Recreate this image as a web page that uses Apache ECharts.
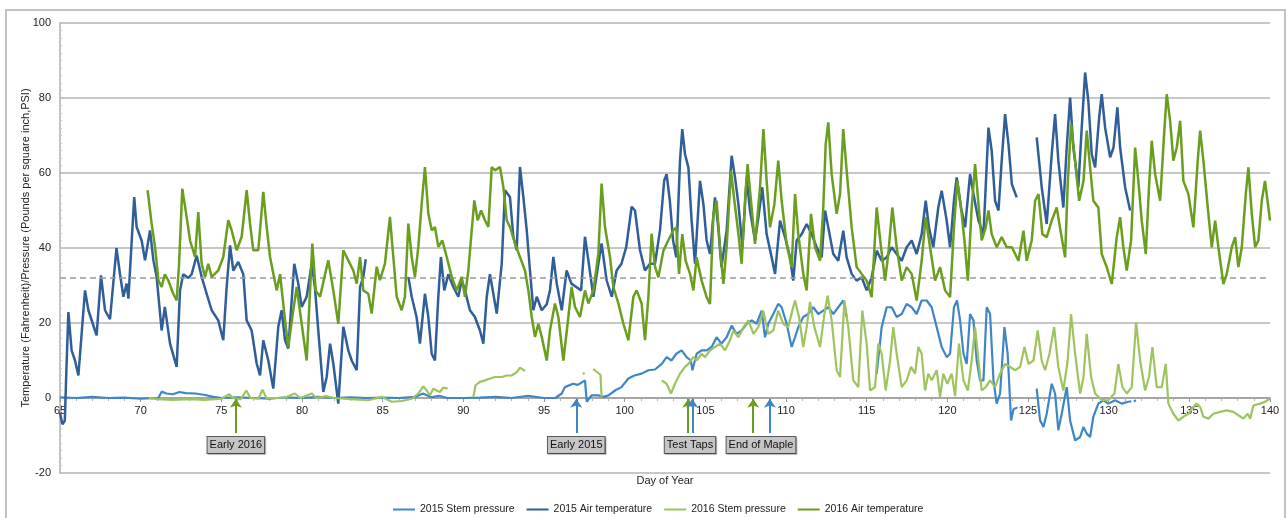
<!DOCTYPE html>
<html>
<head>
<meta charset="utf-8">
<script src="https://cdn.jsdelivr.net/npm/echarts@6/dist/echarts.min.js"></script>
<style>
  html, body { margin: 0; padding: 0; background: #fff; }
  #chart { width: 1288px; height: 518px; }
</style>
</head>
<body>
<div id="chart"></div>
<script>
// [day of year, value]; null = gap in the record
const air2015 = [
  [65.0,-4],[65.15,-7],[65.3,-6],[65.4,8],[65.52,22.9],[65.72,12.7],[65.93,10],[66.14,6],[66.55,28.7],[66.76,23.4],
  [67.17,18],[67.27,16.7],[67.54,32.7],[67.79,23.4],[68.1,21],[68.5,40],[68.72,33],[68.93,27],[69.13,30.5],[69.24,26.5],
  [69.6,53.6],[69.75,45.6],[70.06,42],[70.27,36.7],[70.58,44.7],[70.79,36.7],[70.99,32.3],[71.3,18],[71.5,24.3],[71.82,14.5],
  [72.23,8.3],[72.44,28.7],[72.64,33],[72.95,32],[73.16,33],[73.47,38],[73.78,32.3],[74.09,27.8],[74.4,23.4],[74.81,20.7],
  [75.12,15.4],[75.33,29.6],[75.54,40.7],[75.74,34],[76.05,36.3],[76.36,33],[76.57,20.7],[76.88,18],[77.19,9.2],[77.4,6],
  [77.6,15.4],[77.91,10],[78.22,2.5],[78.53,19],[78.74,23.4],[78.95,15.4],[79.15,13.2],[79.52,35.8],[79.77,30.5],[79.98,24.3],
  [80.29,27],[80.6,35.8],[80.8,29.6],[81.01,18],[81.32,1.6],[81.53,5.6],[81.74,14.5],[81.94,9.2],[82.25,-1.5],[82.56,19],
  [82.87,12.7],[83.08,10],[83.39,7.4],[83.6,29.6],[83.8,32.3],[83.95,37],
  null,
  [86.59,32.3],[86.8,27],[87.1,21.6],[87.31,14.5],[87.62,27.8],[87.83,21.6],[88.04,11.8],[88.24,10],[88.45,27],[88.61,37.6],
  [88.82,28.7],[89.07,33],[89.38,29.6],[89.69,27],[89.9,31.4],[90.1,28.7],[90.41,23.4],[90.72,21.6],[91.03,18],[91.24,14.5],
  [91.45,27],[91.65,33],[91.86,27.8],[92.07,22.5],[92.38,35.8],[92.58,55.4],[92.89,53.6],[93.1,43],[93.31,39.4],[93.51,61.6],
  [93.72,53.6],[93.93,44.7],[94.13,34],[94.34,23.4],[94.55,27],[94.86,23.4],[95.17,25],[95.37,28.7],[95.58,37.6],[95.79,30.5],
  [96.1,23.4],[96.4,34],[96.7,30.5],[97.0,29.6],[97.3,28.7],[97.54,43],[97.75,36.7],[98.06,27],[98.37,35.8],[98.57,41.2],
  [98.88,31.4],[99.2,27],[99.5,34],[99.8,35.8],[100.1,40.3],[100.43,51],[100.64,50],[100.95,39.4],[101.26,34],[101.57,35.8],
  [101.88,35.8],[102.19,44.7],[102.45,58],[102.6,59.7],[102.8,52.6],[103.0,42],[103.2,37.5],[103.43,63.3],[103.57,71.7],[103.74,65],
  [103.95,61.5],[104.15,47.3],[104.36,35.8],[104.67,57.9],[104.88,51.7],[105.08,42],[105.29,38.4],[105.6,53.5],[105.8,45.5],[106.0,34.9],
  [106.32,44.6],[106.63,64.6],[106.84,58.8],[107.05,51.7],[107.3,40.2],[107.56,58.8],[107.77,50],[108.08,42],[108.29,48.2],[108.53,56.2],
  [108.8,43.7],[109.11,37.5],[109.32,33.1],[109.63,47.3],[109.94,42.9],[110.25,37.5],[110.45,31.3],[110.66,42],[110.97,43.7],[111.28,46.4],
  [111.59,43.7],[111.9,40.2],[112.21,37.5],[112.42,50],[112.62,45.5],[112.93,38.4],[113.24,36.6],[113.55,44.6],[113.76,37.5],[114.07,33.1],
  [114.38,31.3],[114.69,32.2],[115.0,28.7],[115.31,32.2],[115.62,39.3],[115.93,36.6],[116.24,37.5],[116.55,40.2],[116.86,38.4],[117.17,36.6],
  [117.48,40.2],[117.79,42],[118.1,38.4],[118.41,43.7],[118.66,52.6],[118.86,45.5],[119.13,40.2],[119.44,50.8],[119.65,55.3],[119.96,47.3],
  [120.17,40.2],[120.41,52.6],[120.58,58.8],[120.85,50.8],[121.1,45.5],[121.41,59.7],[121.62,54.4],[121.93,47.3],[122.24,43.7],[122.55,72.1],
  [122.75,65.9],[122.96,52.6],[123.17,50],[123.37,63.3],[123.58,75.7],[123.79,67.7],[124.0,57],[124.3,53.5],
  null,
  [125.54,69.5],[125.85,56.2],[126.16,46.4],[126.47,65],[126.68,75.7],[126.88,63.3],[127.19,50.8],[127.4,66.8],[127.61,80.1],[127.81,66.8],
  [128.12,56.2],[128.33,72.1],[128.54,86.8],[128.74,79.2],[128.95,65],[129.16,61.5],[129.41,74.8],[129.57,81],[129.78,72.1],[130.09,64.2],
  [130.3,66.8],[130.54,77.5],[130.71,66.8],[131.02,56.2],[131.33,50]
];

const stem2015 = [
  [65,0.2],[66,0],[67,0.3],[68,0],[69,0.1],[70,-0.2],[71.1,0],[71.3,1.7],[71.6,1.2],[72,1],[72.4,1.6],[72.8,1.3],[73.4,1.2],
  [74,0.8],[74.5,0.3],[75,0],[76,0.2],[77,0],[78,-0.2],[79,0.2],[80,0],[81,0.3],[82,0],[83,0.2],[84,0],[85,0.1],[86,0],
  [87,0.3],[87.5,1.2],[88,0.2],[88.5,0.6],[89,0],[90,0],[91,0.1],[92,0.3],[93,0],[94,0.6],[95,0],[95.7,0],[96.1,1.2],
  [96.3,2.9],[96.8,3.8],[97.1,3.5],[97.54,4.7],[97.65,-1],[97.95,0.7],[98.37,0.7],[98.7,0.3],[99.0,0.7],[99.4,2],[99.8,2.9],
  [100.23,5.2],[100.6,6],[101.05,6.5],[101.47,7.4],[101.88,7.6],[102.3,9.1],[102.6,10.9],[102.9,10],[103.2,11.8],[103.53,12.7],
  [103.84,10.9],[104.1,10],[104.2,7.4],[104.46,11.8],[104.77,12.7],[105.08,12.7],[105.39,13.6],[105.7,16.2],[106.0,14.5],[106.32,16.2],
  [106.63,19.3],[106.94,17.1],[107.25,18],[107.56,19.8],[107.87,20.7],[108.18,19.8],[108.49,23.3],[108.7,16.2],[108.9,19.8],[109.21,22.4],
  [109.52,25.1],[109.73,24.2],[110.04,19.8],[110.35,13.6],[110.56,16.2],[110.76,18.9],[111.07,21.6],[111.38,22.4],[111.69,24.2],[112.0,22.4],
  [112.31,23.3],[112.62,24.2],[112.93,22.4],[113.24,24.2],[113.55,26],[113.76,21.6],
  null,
  [115.62,6.5],[115.93,18.9],[116.24,24.2],[116.55,24.2],[116.86,21.6],[117.17,22.4],[117.48,25.1],[117.79,24.2],[118.1,22.4],[118.41,26],
  [118.72,26],[119.03,24.2],[119.34,18.9],[119.65,13.6],[119.96,10.9],[120.17,11.8],[120.41,24.2],[120.6,26],[120.79,20.7],[121.0,11.8],
  [121.2,9.1],[121.41,22.4],[121.62,20.7],[121.82,10],[122.03,4.7],[122.24,4.7],[122.44,24.2],[122.65,22.4],[122.86,4.7],[123.06,-1.5],
  [123.27,1.2],[123.54,18.9],[123.74,11.8],[123.95,-6],[124.1,-3],[124.35,-2.5],
  null,
  [125.54,2.5],[125.75,-6],[125.96,-7.7],[126.16,-4.2],[126.47,3.8],[126.68,1.2],[126.88,-8.6],[127.09,-4.2],[127.4,2.9],[127.61,-6],
  [127.92,-11.3],[128.23,-10.4],[128.44,-7.7],[128.64,-9.5],[128.85,-10.4],[129.05,-5],[129.36,-1.5],[129.67,-0.6],[129.98,-1.5],[130.4,-0.6],
  [130.81,-1.5],[131.22,-1],[131.4,-0.9],
  null,
  [131.55,-0.8],[131.7,-0.7]
];

const air2016 = [
  [70.43,55.4],[70.68,46.5],[70.89,40.3],[71.1,31.4],[71.3,29.6],[71.5,33],[71.71,31.4],[72.02,27.8],[72.23,26],[72.38,35.8],
  [72.58,55.8],[72.85,48.3],[73.06,42],[73.37,37.6],[73.57,49.6],[73.78,35.8],[73.99,32.3],[74.19,35.8],[74.4,32.3],[74.81,34],
  [75.12,37.6],[75.43,47.4],[75.64,44.7],[75.95,39.4],[76.26,43],[76.57,55.4],[76.78,46.5],[76.98,39.4],[77.29,39.4],[77.6,55],
  [77.81,45.6],[78.02,37.6],[78.22,33.2],[78.43,28.7],[78.64,33],[78.95,20.7],[79.15,13.6],[79.4,21.6],[79.67,29.6],[79.98,19.8],
  [80.29,10],[80.5,28.7],[80.64,41.2],[80.85,28.7],[81.12,27],[81.43,33],[81.63,36.7],[81.94,28.7],[82.25,19.8],[82.56,39.4],
  [82.87,36.7],[83.18,34],[83.39,30.5],[83.6,37.6],[83.8,28.7],[84.11,27.8],[84.32,22.5],[84.63,35],[84.83,31.4],[85.14,35.8],
  [85.45,48.3],[85.66,37.6],[85.87,27],[86.18,23.4],[86.38,27],[86.59,46.5],[86.8,37.6],[87.0,32.3],[87.21,40.3],[87.42,51.8],
  [87.62,61.6],[87.83,49.2],[88.04,44.7],[88.24,45.6],[88.45,40.3],[88.7,42],[88.97,37.6],[89.28,32.3],[89.59,28.7],[89.9,32.3],
  [90.1,27],[90.31,34],[90.52,44.7],[90.68,52.7],[90.89,47.4],[91.1,50],[91.34,47.4],[91.55,45.6],[91.76,61.6],[91.96,60.7],
  [92.27,61.6],[92.48,56.3],[92.69,47.4],[92.89,45.6],[93.2,41.2],[93.51,37.6],[93.82,34],[94.03,28.7],[94.24,21.6],[94.44,16.3],
  [94.65,19.8],[94.86,16.3],[95.17,10],[95.37,18],[95.68,25.2],[95.89,21.6],[96.2,10],[96.51,21.6],[96.71,29.6],[96.92,24.3],
  [97.23,21.6],[97.54,28.7],[97.75,25.2],[98.06,28.7],[98.37,38.5],[98.57,57.2],[98.78,45.6],[99.09,37.6],[99.3,29.6],[99.61,25.2],
  [99.92,19.8],[100.23,15.4],[100.54,27],[100.74,28.7],[101.05,25.2],[101.26,15.4],[101.47,27],[101.67,43.8],[101.88,35],[102.09,32.2],
  [102.4,39.3],[102.7,42],[103.0,44.6],[103.2,45.5],[103.37,33.1],[103.57,43.7],[103.78,36.6],[104.05,33.1],[104.26,28.7],[104.46,37.5],
  [104.77,31.3],[105.08,26.9],[105.29,25.1],[105.5,49.1],[105.7,52.6],[105.91,40.2],[106.12,30.4],[106.32,40.2],[106.59,60.6],[106.8,52.6],
  [107.05,43.7],[107.25,35.8],[107.46,52.6],[107.62,62.4],[107.87,50.8],[108.08,41.1],[108.39,56.2],[108.6,71.7],[108.8,57.9],[109.01,45.5],
  [109.28,51.7],[109.52,63.3],[109.73,52.6],[110.04,41.1],[110.35,34.9],[110.56,54.4],[110.76,43.7],[111.07,33.1],[111.28,28.7],[111.55,49.1],
  [111.8,40.2],[112.11,36.6],[112.31,50.8],[112.46,67.7],[112.62,73.5],[112.83,59.7],[113.14,49.1],[113.35,54.4],[113.55,71.7],[113.76,60.6],
  [114.07,45.5],[114.38,34.9],[114.69,33.1],[115.0,31.3],[115.31,26.9],[115.62,50.8],[115.89,40.2],[116.14,31.3],[116.34,38.4],[116.59,50.8],
  [116.86,40.2],[117.17,31.3],[117.48,34.9],[117.79,33.1],[118.1,26],[118.41,36.6],[118.66,48.2],[118.93,40.2],[119.24,31.3],[119.55,34.9],
  [119.86,28.7],[120.17,26.9],[120.41,45.5],[120.62,57.9],[120.89,49.1],[121.1,40.2],[121.27,31.3],[121.51,50.8],[121.72,62.4],[121.93,51.7],
  [122.13,42],[122.38,45.5],[122.55,50],[122.75,43.7],[123.06,40.2],[123.37,42.9],[123.68,40.2],[124.0,40.2],[124.41,36.6],[124.72,44.6],
  [124.92,36.6],[125.23,42],[125.44,52.6],[125.65,54.4],[125.89,43.7],[126.16,42.9],[126.47,47.3],[126.78,50.8],[127.05,43.7],[127.3,37.5],
  [127.46,57],[127.67,73],[127.92,63.3],[128.17,52.6],[128.44,57.9],[128.64,71.3],[128.85,61.5],[129.05,52.6],[129.36,50.8],[129.57,38.4],
  [129.88,34.9],[130.19,30.4],[130.5,42.9],[130.71,48.2],[130.91,40.2],[131.12,34],[131.39,42],[131.64,66.8],[131.84,57.9],[132.05,47.3],
  [132.3,38.4],[132.5,56.2],[132.67,68.6],[132.88,59.7],[133.19,52.6],[133.46,72.1],[133.6,81],[133.81,73.9],[134.01,63.3],[134.22,66.8],
  [134.43,73.9],[134.63,57.9],[134.94,54.4],[135.25,45.5],[135.52,63.3],[135.67,71.3],[135.87,63.3],[136.18,49.1],[136.39,40.2],[136.6,47.3],
  [136.8,40.2],[137.11,30.4],[137.32,33.1],[137.63,40.2],[137.84,42.9],[138.04,34.9],[138.25,40.2],[138.5,54.4],[138.66,61.5],[138.87,49.1],
  [139.08,40.2],[139.28,42],[139.49,52.6],[139.69,57.9],[140.0,47.3]
];

const stem2016 = [
  [70.5,0],[71,-0.3],[72,-0.5],[73,-0.3],[74,-0.5],[75,-0.2],[75.5,1],[75.7,0],[76.2,-0.3],[76.55,2],[76.8,0],[77.3,-0.2],
  [77.55,2.2],[77.8,0],[78.5,0],[79,0.2],[79.55,1.2],[79.9,0],[80.6,1.2],[80.9,0],[81.5,0.5],[82,0],[83,-0.3],[84.11,-0.6],
  [84.94,0.3],[85.56,-1],[86.18,-0.8],[86.8,-0.2],[87.21,1.2],[87.52,3.1],[87.73,2],[87.93,0.7],[88.14,2.5],[88.35,2],
  [88.55,1.6],[88.76,2.8],[89.03,2.5],
  null,
  [90.62,0.3],[90.76,3.4],[91.03,4.3],[91.34,4.7],[91.65,5.2],[91.96,5.6],[92.38,5.6],[92.69,6],[92.99,6],[93.31,6.9],
  [93.51,8.1],[93.82,7.2],
  null,
  [97.4,6.4],[97.52,6.7],
  null,
  [98.05,7.8],[98.2,7.2],[98.5,6.2],[98.57,0.2],
  null,
  [102.3,4.7],[102.6,3.8],[102.87,1.2],[103.12,3.8],[103.43,6.5],[103.74,8.3],[103.95,9.1],[104.26,10.9],[104.46,10],[104.77,11.8],
  [104.98,10.9],[105.29,12.7],[105.6,13.6],[105.91,14.5],[106.22,12.7],[106.53,15.4],[106.74,18],[107.05,16.2],[107.36,18.9],[107.67,20.7],
  [107.98,17.1],[108.28,18.9],[108.59,23.3],[108.9,17.1],[109.21,18],[109.52,23.3],[109.83,19.8],[110.14,18.9],[110.39,23.3],[110.56,26],
  [110.81,21.6],[111.07,13.6],[111.28,18.9],[111.49,25.6],[111.76,18.9],[112.11,13.6],[112.38,22.4],[112.58,27.3],[112.83,20.7],[113.14,7.4],
  [113.35,5.6],[113.62,26],[113.86,18.9],[114.17,4.7],[114.48,2.9],[114.73,23.3],[115.0,14.5],[115.21,2],[115.52,2.9],[115.72,14.5],
  [115.93,11.8],[116.18,2],[116.45,10],[116.65,18.9],[116.86,11.8],[117.17,2.9],[117.48,4.7],[117.75,8.3],[118.0,6.5],[118.2,13.6],
  [118.41,11.8],[118.62,2],[118.82,6.5],[119.03,4.7],[119.34,7.4],[119.55,0.3],[119.75,6.5],[120.0,3.8],[120.27,6.5],[120.48,0.5],
  [120.72,14.5],[121.0,4.7],[121.27,2],[121.51,10],[121.72,18.9],[121.93,10],[122.13,2],[122.38,2.9],[122.65,4.7],[122.96,2.9],
  [123.27,6.5],[123.58,9.1],[123.89,8.3],[124.2,7.4],[124.51,8.3],[124.78,13.6],[125.03,9.1],[125.34,10],[125.6,18],[125.85,10],
  [126.06,7.4],[126.33,11.8],[126.62,18.9],[126.88,8.3],[127.19,2],[127.46,10],[127.67,22.4],[127.92,11.8],[128.23,1.2],[128.44,5.6],
  [128.64,17.1],[128.91,5.6],[129.16,1.2],[129.57,-0.6],[129.98,-0.6],[130.36,1.2],[130.6,9.1],[130.85,2.9],[131.12,1.2],[131.43,2.9],
  [131.7,20.2],[131.95,10],[132.26,2],[132.5,5.6],[132.71,13.6],[132.98,2.9],[133.29,2.9],[133.54,9.1],[133.7,-1.5],[134.01,-4.2],
  [134.32,-6],[134.63,-5],[134.94,-4.2],[135.25,-2.4],[135.46,-1.5],[135.67,-2.4],[135.87,-5],[136.18,-5.5],[136.49,-4.2],[136.9,-3.7],
  [137.32,-3.3],[137.73,-3.7],[138.04,-4.6],[138.35,-5.5],[138.62,-4.2],[138.77,-5.5],[138.97,-2],[139.39,-1.5],[139.69,-1],[140.0,-0.2]
];

// annotations: label boxes and their arrows
const noteLabels = ['Early 2016', 'Early 2015', 'Test Taps', 'End of Maple'];
const noteDays = [75.9, 97.0, 104.05, 108.45];
const arrowDays = [75.9, 97.0, 103.94, 104.19, 107.97, 109.0];
const arrowKinds = ['2016', '2015', '2016', '2015', '2016', '2015'];
const freezingLine = 32;

const C15stem = '#3e86c9';
const C15air = '#2f5e99';
const C16stem = '#9dc45e';
const C16air = '#6a9e1f';
const FONT = '"Liberation Sans", Arial, sans-serif';

const gap = d => (d === null ? ['-', '-'] : d);

const chart = echarts.init(document.getElementById('chart'));

const arrowLines = arrowDays.map((d, i) => [
  { coord: [d, -9.3], lineStyle: { color: arrowKinds[i] === '2015' ? C15stem : C16air, width: 2, type: 'solid' } },
  { coord: [d, -0.2] }
]);

const option = {
  animation: false,
  textStyle: { fontFamily: FONT },
  grid: { left: 60, right: 18, top: 23, bottom: 45, outerBoundsMode: 'none', containLabel: false },
  graphic: [
    {
      type: 'rect', silent: true, z: -1,
      shape: { x: 6, y: 10, width: 1279, height: 520 },
      style: { fill: 'none', stroke: '#b0b0b0', lineWidth: 1.5 }
    }
  ],
  legend: {
    data: ['2015 Stem pressure', '2015 Air temperature', '2016 Stem pressure', '2016 Air temperature'],
    left: 388, top: 499,
    icon: 'rect', itemWidth: 22, itemHeight: 2, itemGap: 12,
    textStyle: { fontSize: 10.5, color: '#222', fontFamily: FONT }
  },
  xAxis: {
    type: 'value', min: 65, max: 140, interval: 5,
    // axis drawn along the y = 0 line (75px above the grid bottom)
    offset: -75,
    name: 'Day of Year', nameLocation: 'middle', nameGap: 77, nameMoveOverlap: false,
    nameTextStyle: { fontSize: 11, color: '#222', fontFamily: FONT },
    axisLine: { onZero: false, lineStyle: { color: '#9a9a9a', width: 1.5 } },
    axisTick: { show: true, inside: false, length: 4, lineStyle: { color: '#9a9a9a' } },
    minorTick: { show: true, splitNumber: 5, length: 3, lineStyle: { color: '#b0b0b0' } },
    axisLabel: { fontSize: 11, color: '#222', margin: 7, showMinLabel: true, showMaxLabel: true },
    splitLine: { show: false }
  },
  yAxis: {
    type: 'value', min: -20, max: 100, interval: 20,
    name: 'Temperature (Fahrenheit)/Pressure (Pounds per square inch,PSI)',
    nameLocation: 'middle', nameGap: 29, nameRotate: 90, nameMoveOverlap: false,
    nameTextStyle: { fontSize: 11, color: '#222', fontFamily: FONT },
    axisLine: { show: true, onZero: false, lineStyle: { color: '#b0b0b0', width: 1.5 } },
    axisTick: { show: true, inside: true, length: 3, lineStyle: { color: '#c0c0c0' } },
    minorTick: { show: true, splitNumber: 10, length: 2, lineStyle: { color: '#c8c8c8' } },
    axisLabel: { fontSize: 11, color: '#222', margin: 9 },
    splitLine: { show: true, lineStyle: { color: '#b4b4b4', width: 1.5 } }
  },
  series: [
    {
      name: '2015 Stem pressure', type: 'line', data: stem2015.map(gap),
      showSymbol: false, connectNulls: false, color: C15stem,
      lineStyle: { width: 2.2, color: C15stem }, z: 2,
      markLine: {
        silent: true, symbol: 'none', label: { show: false },
        lineStyle: { color: '#9a9a9a', width: 1.5, type: [6, 4] },
        data: [{ yAxis: freezingLine }]
      }
    },
    {
      name: '2015 Air temperature', type: 'line', data: air2015.map(gap),
      showSymbol: false, connectNulls: false, color: C15air,
      lineStyle: { width: 2.5, color: C15air }, z: 3
    },
    {
      name: '2016 Stem pressure', type: 'line', data: stem2016.map(gap),
      showSymbol: false, connectNulls: false, color: C16stem,
      lineStyle: { width: 2.2, color: C16stem }, z: 4
    },
    {
      name: '2016 Air temperature', type: 'line', data: air2016.map(gap),
      showSymbol: false, connectNulls: false, color: C16air,
      lineStyle: { width: 2.5, color: C16air }, z: 5
    },
    {
      name: 'notes', type: 'scatter', z: 10, silent: true,
      symbolSize: 1, itemStyle: { opacity: 0 },
      data: noteLabels.map((t, i) => [noteDays[i], -12.5, t]),
      label: {
        show: true, position: 'inside', opacity: 1,
        formatter: p => p.value[2],
        fontSize: 11, color: '#111', fontFamily: FONT,
        backgroundColor: '#c6c6c6', borderColor: '#5a5a5a', borderWidth: 1,
        padding: [2, 2, 1, 2], lineHeight: 13,
        shadowColor: 'rgba(0,0,0,0.25)', shadowOffsetX: 1, shadowOffsetY: 1, shadowBlur: 1
      },
      markLine: {
        silent: true, symbol: ['none', 'arrow'], symbolSize: 9,
        label: { show: false },
        data: arrowLines
      }
    }
  ]
};

chart.setOption(option);
</script>
</body>
</html>
